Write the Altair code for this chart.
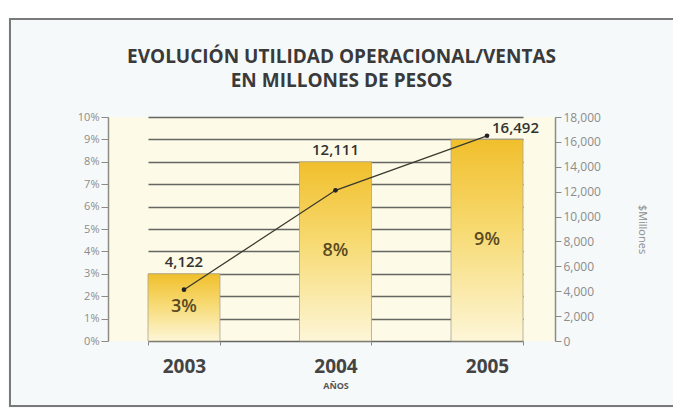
import altair as alt
import pandas as pd

years = ["2003", "2004", "2005"]
pct = [3, 8, 9]
millions = [4122, 12111, 16492]
pct_labels = ["3%", "8%", "9%"]
value_labels = ["4,122", "12,111", "16,492"]

df = pd.DataFrame({"year": years, "pct": pct, "mill": millions,
                   "pl": pct_labels, "vl": value_labels})

FONT = "Open Sans"
W, H = 447, 224

gradient = alt.Gradient(
    gradient="linear",
    stops=[alt.GradientStop(color="#f1bf2c", offset=0),
           alt.GradientStop(color="#f7da72", offset=0.45),
           alt.GradientStop(color="#fdf6d8", offset=1)],
    x1=0, x2=0, y1=0, y2=1,
)

xscale = alt.Scale(domain=years, range=[40, 415], paddingInner=0.525, paddingOuter=0)
xaxis = alt.Axis(title="AÑOS", titleFont=FONT, titleFontSize=9, titleFontWeight="bold",
                 titleColor="#555555", titlePadding=5,
                 labelFont=FONT, labelFontSize=19, labelFontWeight="bold",
                 labelColor="#444444", labelPadding=12, labelAngle=0,
                 domain=False, ticks=True, tickBand="extent", tickSize=4,
                 tickColor="#888888", grid=False)
xenc = alt.X("year:N", scale=xscale, sort=years, axis=xaxis)

pscale = alt.Scale(domain=[0, 10])
paxis = alt.Axis(values=list(range(11)), labelExpr="datum.value + '%'",
                 title=None, labelFont=FONT, labelFontSize=11, labelColor="#8c8c8c",
                 grid=True, gridColor="#666662", gridWidth=1.3,
                 domain=True, domainColor="#8c8c84", domainWidth=1.5,
                 ticks=True, tickSize=7, tickColor="#8c8c84", labelPadding=2)

mscale = alt.Scale(domain=[0, 18000])
maxis = alt.Axis(orient="right", values=list(range(0, 18001, 2000)), format=",.0f",
                 title="$Millones", titleFont=FONT, titleFontSize=11,
                 titleFontWeight="normal", titleColor="#8c8c8c", titlePadding=36,
                 labelFont=FONT, labelFontSize=12, labelColor="#8c8c8c",
                 grid=False, domain=True, domainColor="#8c8c84", domainWidth=1.5,
                 ticks=True, tickSize=6, tickColor="#8c8c84", labelPadding=2)

base = alt.Chart(df)

bars = base.mark_bar(color=gradient, stroke="#a8a48c", strokeWidth=0.8).encode(
    x=xenc, y=alt.Y("pct:Q", scale=pscale, axis=paxis))

pct_text = base.transform_calculate(pct_mid="datum.pct / 2").mark_text(
    font=FONT, fontSize=18, fontWeight=600, color="#5a4a22"
).encode(x=xenc, y=alt.Y("pct_mid:Q", scale=pscale, axis=paxis), text="pl:N")

val_text = base.transform_filter("datum.year != '2005'").mark_text(
    font=FONT, fontSize=15, fontWeight=600, color="#333333", dy=-12
).encode(x=xenc, y=alt.Y("pct:Q", scale=pscale, axis=paxis), text="vl:N")

# decorative outer frame of the figure (not data)
frame_data = alt.Data(values=[{"k": 1}])
top_strip = alt.Chart(frame_data).mark_rect(color="white").encode(
    x=alt.value(-110), x2=alt.value(700), y=alt.value(-112), y2=alt.value(-99))
frame = alt.Chart(frame_data).mark_rect(filled=False, stroke="#7a7a7a", strokeWidth=2).encode(
    x=alt.value(-98), x2=alt.value(700), y=alt.value(-98), y2=alt.value(289))

left = alt.layer(top_strip, frame, bars, pct_text, val_text)

line = base.mark_line(color="#3a3a30", strokeWidth=1.3).encode(
    x=xenc, y=alt.Y("mill:Q", scale=mscale, axis=maxis))
points = base.mark_point(filled=True, color="#222222", size=22, opacity=1).encode(
    x=xenc, y=alt.Y("mill:Q", scale=mscale, axis=maxis))
last_text = base.transform_filter("datum.year == '2005'").mark_text(
    font=FONT, fontSize=15, fontWeight=600, color="#333333", align="left", dx=5, dy=-8
).encode(x=xenc, y=alt.Y("mill:Q", scale=mscale, axis=maxis), text="vl:N")

right = alt.layer(line, points, last_text)

chart = alt.layer(left, right).resolve_scale(y="independent").properties(
    width=W, height=H,
    autosize=alt.AutoSizeParams(type="none"),
    padding={"left": 100, "top": 109, "right": 118, "bottom": 67},
    background="#f5f9fa",
    title=alt.TitleParams(["EVOLUCIÓN UTILIDAD OPERACIONAL/VENTAS", "EN MILLONES DE PESOS"],
                          font=FONT, fontSize=19, fontWeight="bold", color="#3a3a3a",
                          anchor="middle", frame="group", dx=10, offset=-86, lineHeight=24),
).configure_view(fill="#fdfbe7", stroke=None)

chart.save("out.html", embed_options={"renderer": "svg", "actions": False})
